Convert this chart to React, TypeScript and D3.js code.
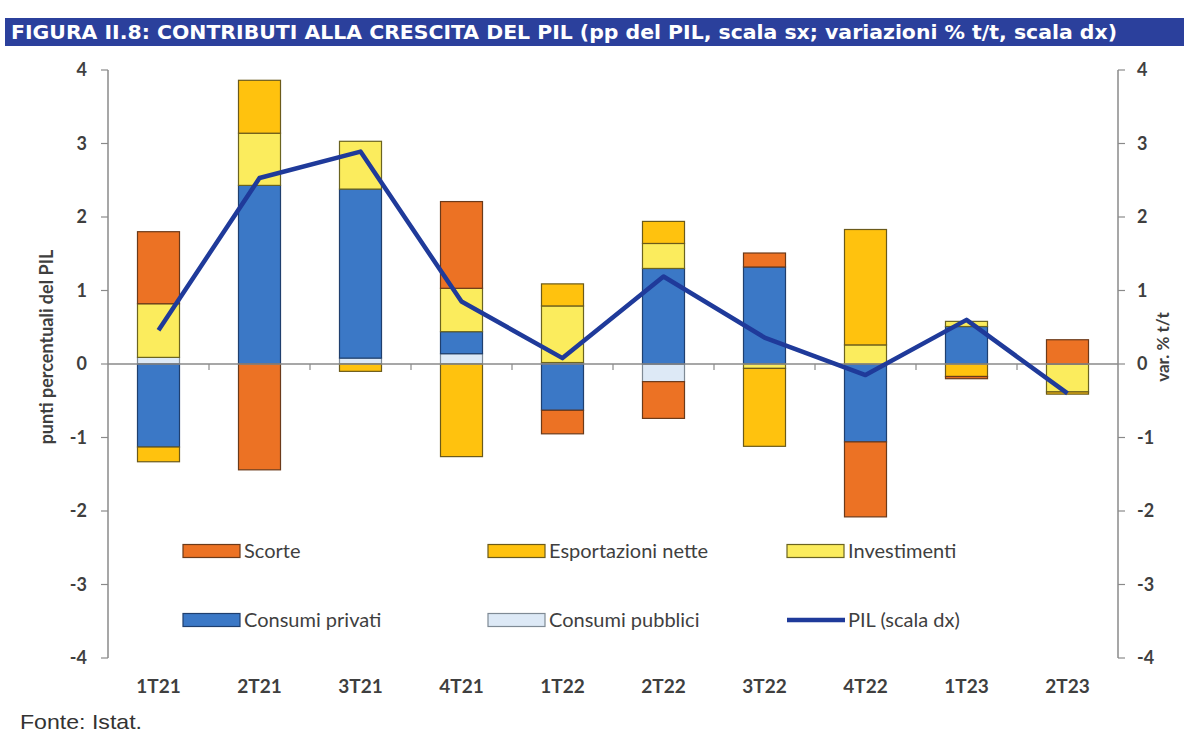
import React from "react";
import * as d3 from "d3";

const categories = ["1T21", "2T21", "3T21", "4T21", "1T22", "2T22", "3T22", "4T22", "1T23", "2T23"];
const consumiPubblici = [0.09, 0.0, 0.08, 0.14, 0.02, -0.24, 0.0, 0.0, 0.0, 0.0];
const consumiPrivati = [-1.13, 2.43, 2.3, 0.3, -0.63, 1.3, 1.32, -1.06, 0.51, 0.0];
const investimenti = [0.73, 0.71, 0.65, 0.59, 0.77, 0.34, -0.06, 0.26, 0.07, -0.38];
const esportazioniNette = [-0.2, 0.72, -0.1, -1.26, 0.3, 0.3, -1.06, 1.57, -0.17, -0.03];
const scorte = [0.98, -1.44, 0.0, 1.18, -0.32, -0.5, 0.19, -1.02, -0.03, 0.33];
const pil = [0.46, 2.53, 2.89, 0.85, 0.08, 1.19, 0.36, -0.15, 0.6, -0.4];
const yTicks = [-4, -3, -2, -1, 0, 1, 2, 3, 4];

const seriesKeys = ["pubblici", "privati", "investimenti", "esportazioni", "scorte"];
const seriesValues: Record<string, number[]> = {
  pubblici: consumiPubblici,
  privati: consumiPrivati,
  investimenti: investimenti,
  esportazioni: esportazioniNette,
  scorte: scorte,
};
const colors: Record<string, string> = {
  scorte: "#EC7224",
  esportazioni: "#FFC20E",
  investimenti: "#FBEC5D",
  privati: "#3B78C6",
  pubblici: "#DDE9F6",
};
const strokes: Record<string, string> = {
  scorte: "#6b3a1a",
  esportazioni: "#6b5a1a",
  investimenti: "#6b6420",
  privati: "#1f3f6e",
  pubblici: "#7f8a95",
};

const legendItems = [
  { key: "scorte", label: "Scorte", col: 0, row: 0 },
  { key: "esportazioni", label: "Esportazioni nette", col: 1, row: 0 },
  { key: "investimenti", label: "Investimenti", col: 2, row: 0 },
  { key: "privati", label: "Consumi privati", col: 0, row: 1 },
  { key: "pubblici", label: "Consumi pubblici", col: 1, row: 1 },
  { key: "pil", label: "PIL (scala dx)", col: 2, row: 1 },
];

export default function App() {
  const W = 1184;
  const H = 735;
  const left = 108;
  const right = 1118;
  const x = d3.scaleBand<string>().domain(categories).range([left, right]).paddingInner(0.584).paddingOuter(0.292);
  const y = d3.scaleLinear().domain([-4, 4]).range([658, 70]);
  const yR = d3.scaleLinear().domain([-4, 4]).range([658, 70]);

  const table = categories.map((c, i) => {
    const row: any = { cat: c };
    seriesKeys.forEach((k) => (row[k] = seriesValues[k][i]));
    return row;
  });
  const stack = d3.stack<any>().keys(seriesKeys).offset(d3.stackOffsetDiverging);
  const stacked = stack(table);

  const line = d3
    .line<number>()
    .x((_, i) => (x(categories[i]) as number) + x.bandwidth() / 2)
    .y((d) => yR(d));

  const step = x.step();
  const boundaries = categories.slice(1).map((c) => (x(c) as number) - (step - x.bandwidth()) / 2);

  const axisColor = "#8a8a8a";
  const labelColor = "#3f3f3f";
  const font = "Lato, 'Open Sans', sans-serif";

  const legendX = [183, 488, 787];
  const legendY = [551, 620];

  return (
    <svg width={W} height={H} style={{ position: "absolute", left: 0, top: 0, background: "#fff" }}>
      {/* Title bar */}
      <rect x={5} y={18} width={W - 5} height={28} fill="#2B409C" />
      <text
        x={11}
        y={38.5}
        fill="#fff"
        fontFamily="'Liberation Sans Narrow', 'DejaVu Sans Condensed', 'Roboto', sans-serif"
        fontWeight="bold"
        fontSize={19}
        textLength={1106}
        lengthAdjust="spacingAndGlyphs"
      >
        FIGURA II.8: CONTRIBUTI ALLA CRESCITA DEL PIL (pp del PIL, scala sx; variazioni % t/t, scala dx)
      </text>

      {/* Bars */}
      {stacked.map((s) => (
        <g key={s.key}>
          {s.map((d, i) => {
            const y0 = y(d[0]);
            const y1 = y(d[1]);
            const h = Math.abs(y0 - y1);
            if (h < 0.01) return null;
            return (
              <rect
                key={i}
                x={x(categories[i])}
                y={Math.min(y0, y1)}
                width={x.bandwidth()}
                height={h}
                fill={colors[s.key]}
                stroke={strokes[s.key]}
                strokeWidth={1.2}
              />
            );
          })}
        </g>
      ))}

      {/* Zero line and category ticks */}
      <line x1={left} x2={right} y1={y(0)} y2={y(0)} stroke={axisColor} strokeWidth={1.5} />
      {boundaries.map((b, i) => (
        <line key={i} x1={b} x2={b} y1={y(0)} y2={y(0) + 6} stroke={axisColor} strokeWidth={1.2} />
      ))}

      {/* Left axis */}
      <line x1={left} x2={left} y1={y(4)} y2={y(-4)} stroke={axisColor} strokeWidth={1.5} />
      {yTicks.map((t) => (
        <g key={"l" + t}>
          <line x1={left - 7} x2={left} y1={y(t)} y2={y(t)} stroke={axisColor} strokeWidth={1.2} />
          <text x={87} y={y(t)} dy="0.35em" textAnchor="end" fontFamily={font} fontWeight="bold" fontSize={18} fill={labelColor}>
            {t}
          </text>
        </g>
      ))}

      {/* Right axis */}
      <line x1={right} x2={right} y1={yR(4)} y2={yR(-4)} stroke={axisColor} strokeWidth={1.5} />
      {yTicks.map((t) => (
        <g key={"r" + t}>
          <line x1={right} x2={right + 7} y1={yR(t)} y2={yR(t)} stroke={axisColor} strokeWidth={1.2} />
          <text x={1137} y={yR(t)} dy="0.35em" textAnchor="start" fontFamily={font} fontWeight="bold" fontSize={18} fill={labelColor}>
            {t}
          </text>
        </g>
      ))}

      {/* PIL line */}
      <path d={line(pil) || ""} fill="none" stroke="#1F3A9A" strokeWidth={4.5} strokeLinejoin="round" />

      {/* Axis titles */}
      <text
        transform={`translate(53,${y(0) - 17}) rotate(-90)`}
        textAnchor="middle"
        fontFamily={font}
        fontWeight="bold"
        fontSize={18}
        fill={labelColor}
      >
        punti percentuali del PIL
      </text>
      <text
        transform={`translate(1169,${y(0) - 17}) rotate(-90)`}
        textAnchor="middle"
        fontFamily={font}
        fontWeight="bold"
        fontSize={17}
        fill={labelColor}
      >
        var. % t/t
      </text>

      {/* Category labels */}
      {categories.map((c) => (
        <text
          key={c}
          x={(x(c) as number) + x.bandwidth() / 2}
          y={686}
          dy="0.35em"
          textAnchor="middle"
          fontFamily={font}
          fontWeight="bold"
          fontSize={19}
          fill={labelColor}
        >
          {c}
        </text>
      ))}

      {/* Legend */}
      {legendItems.map((it) => {
        const lx = legendX[it.col];
        const ly = legendY[it.row];
        return (
          <g key={it.key}>
            {it.key === "pil" ? (
              <line x1={lx} x2={lx + 58} y1={ly} y2={ly} stroke="#1F3A9A" strokeWidth={4.5} />
            ) : (
              <rect x={lx} y={ly - 6.5} width={57} height={13} fill={colors[it.key]} stroke={strokes[it.key]} strokeWidth={1.2} />
            )}
            <text x={lx + 61} y={ly} dy="0.35em" fontFamily={font} fontSize={20} fill={labelColor}>
              {it.label}
            </text>
          </g>
        );
      })}

      {/* Source */}
      <text
        x={20}
        y={722}
        dy="0.35em"
        fontFamily="'Liberation Sans Narrow', 'Liberation Sans', sans-serif"
        fontSize={21}
        fill="#333"
        textLength={122}
        lengthAdjust="spacingAndGlyphs"
      >
        Fonte: Istat.
      </text>
    </svg>
  );
}
